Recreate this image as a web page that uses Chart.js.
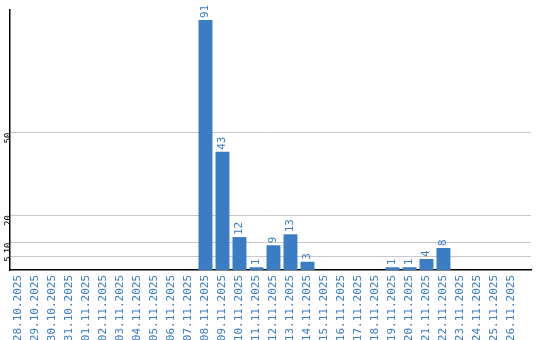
<!DOCTYPE html>
<html>
<head>
<meta charset="utf-8">
<script src="https://cdn.jsdelivr.net/npm/chart.js@4/dist/chart.umd.min.js"></script>
<style>
  body { margin: 0; background: #fff; }
</style>
</head>
<body>
<canvas id="chart" width="540" height="340"></canvas>
<script>
const labels = [
  "28.10.2025", "29.10.2025", "30.10.2025", "31.10.2025", "01.11.2025",
  "02.11.2025", "03.11.2025", "04.11.2025", "05.11.2025", "06.11.2025",
  "07.11.2025", "08.11.2025", "09.11.2025", "10.11.2025", "11.11.2025",
  "12.11.2025", "13.11.2025", "14.11.2025", "15.11.2025", "16.11.2025",
  "17.11.2025", "18.11.2025", "19.11.2025", "20.11.2025", "21.11.2025",
  "22.11.2025", "23.11.2025", "24.11.2025", "25.11.2025", "26.11.2025"
];
const counts = [
  0, 0, 0, 0, 0, 0, 0, 0, 0, 0,
  0, 91, 43, 12, 1, 9, 13, 3, 0, 0,
  0, 0, 1, 1, 4, 8, 0, 0, 0, 0
];
const yTicks = [5, 10, 20, 50];

const blue = "#3a7dc4";
const mono = "'DejaVu Sans Mono', 'Liberation Mono', monospace";

// rotated text helper: reads bottom-to-top, anchored at (x, y)
function drawUp(ctx, text, x, y, align) {
  ctx.save();
  ctx.translate(x, y);
  ctx.rotate(-Math.PI / 2);
  ctx.textAlign = align;
  ctx.textBaseline = "middle";
  ctx.fillText(text, 0, 0);
  ctx.restore();
}

// values above the bars and the date labels under the axis
const barText = {
  id: "barText",
  afterDatasetsDraw(chart) {
    const ctx = chart.ctx;
    const meta = chart.getDatasetMeta(0);
    ctx.save();
    ctx.fillStyle = blue;
    ctx.font = "11px " + mono;
    meta.data.forEach((bar, i) => {
      if (counts[i]) drawUp(ctx, String(counts[i]), bar.x, bar.y - 2, "left");
    });
    const xs = chart.scales.x;
    labels.forEach((lab, i) => {
      drawUp(ctx, lab, xs.getPixelForValue(i), chart.chartArea.bottom + 5, "right");
    });
    ctx.restore();
  }
};

new Chart(document.getElementById("chart").getContext("2d"), {
  type: "bar",
  data: {
    datasets: [{
      data: counts.map((v, i) => ({ x: i, y: v })),
      backgroundColor: blue,
      barPercentage: 0.82,
      categoryPercentage: 1
    }]
  },
  options: {
    responsive: false,
    animation: false,
    layout: { padding: { top: 10, right: 9, left: 0, bottom: 0 } },
    plugins: {
      legend: { display: false },
      tooltip: { enabled: false }
    },
    scales: {
      x: {
        type: "linear",
        offset: false,
        min: -0.5,
        max: 30.15,
        grid: { display: false },
        border: { color: "#000", width: 1.5 },
        afterFit(scale) { scale.height = 70; },
        ticks: { display: false, stepSize: 1 }
      },
      y: {
        min: 0,
        max: 94.64,
        afterBuildTicks(scale) { scale.ticks = yTicks.map(v => ({ value: v })); },
        afterFit(scale) { scale.width = 10; },
        grid: { color: "#c8c8c8", drawTicks: false },
        border: { color: "#000", width: 1.5 },
        ticks: {
          minRotation: 90,
          maxRotation: 90,
          padding: 1,
          color: "#000",
          font: { family: mono, size: 9 }
        }
      }
    }
  },
  plugins: [barText]
});
</script>
</body>
</html>
